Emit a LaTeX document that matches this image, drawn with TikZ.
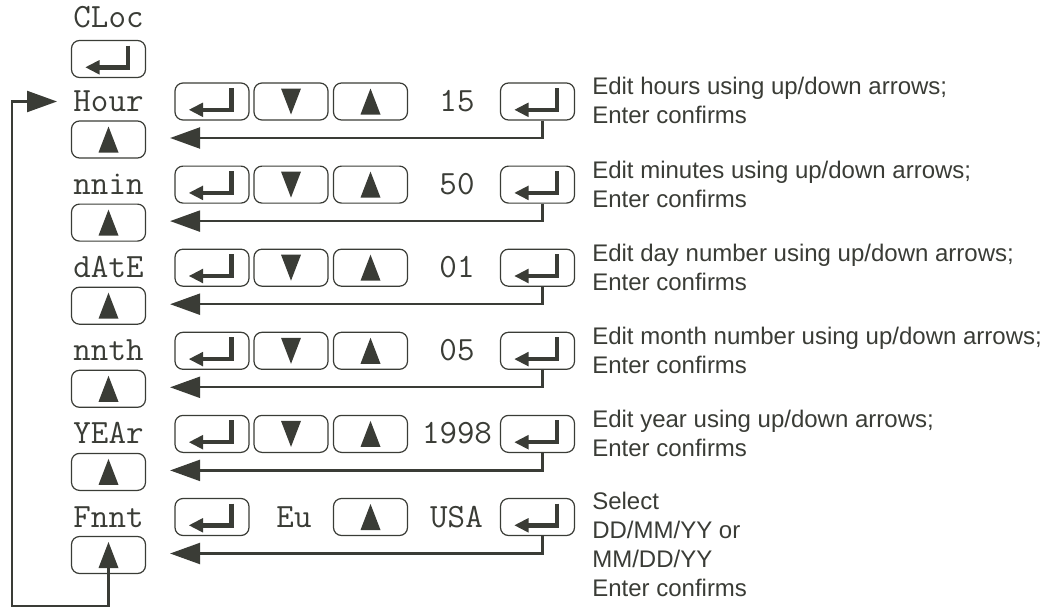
\documentclass[tikz,border=0pt]{standalone}
\usepackage{fontspec}
\setmainfont{Liberation Sans}
\usetikzlibrary{arrows.meta,positioning}
\definecolor{ink}{RGB}{58,60,54}

\begin{document}
\begin{tikzpicture}[x=1pt,y=1pt,every node/.style={text=ink,inner sep=0pt}, node distance=79.5pt,
		key/.style={draw=ink,line width=1.2pt,rounded corners=8pt,minimum width=74pt,minimum height=37pt},
		upkey/.style={key,path picture={\fill[ink,sharp corners] ([shift={(-10,-13)}]path picture bounding box.center) -- ++(20,0) -- ++(-10,26) -- cycle;}},
		dnkey/.style={key,path picture={\fill[ink,sharp corners] ([shift={(-10,13)}]path picture bounding box.center) -- ++(20,0) -- ++(-10,-26) -- cycle;}},
		entkey/.style={key,path picture={
			\draw[ink,sharp corners,line width=4.5pt] ([shift={(19.7,13.5)}]path picture bounding box.center) |- ++(-29,-21.8);
			\fill[ink,sharp corners] ([shift={(-9,-1)}]path picture bounding box.center) -- ++(-14,-7.3) -- ++(14,-7.3) -- cycle;}},
		lab/.style={font=\ttfamily\fontsize{34}{34}\selectfont,text height=20pt,text depth=0pt},
		note/.style={font=\fontsize{24}{29}\selectfont,align=left,anchor=north west},
		ret/.style={draw=ink,line width=2.3pt,-{Triangle[length=30pt,width=21pt]}}]
			\useasboundingbox (0,0) rectangle (1050,-608);

			\node[lab] (l0) at (108.5,-17) {CLoc};
			\node[entkey,below of=l0,node distance=42pt] (k0) {};

			% Hour
			\node[lab,below of=k0,node distance=42.5pt] (l1) {Hour};
			\node[upkey,below of=l1,node distance=38pt] (u1) {};
			\node[entkey,right of=l1,node distance=103.5pt] (e1) {};
			\node[dnkey,right of=e1,node distance=79pt] (d1) {};
			\node[upkey,right of=d1] (p1) {};
			\node[lab,right of=p1,node distance=86.5pt] (v1) {15};
			\node[entkey,right of=v1,node distance=80.5pt] (r1) {};
			\node[right=17pt of r1.north east,note,yshift=5pt] (t1) {Edit hours using up/down arrows;\\Enter confirms};

			% nnin
			\node[lab,below of=l1,node distance=83.1pt] (l2) {nnin};
			\node[upkey,below of=l2,node distance=38pt] (u2) {};
			\node[entkey,right of=l2,node distance=103.5pt] (e2) {};
			\node[dnkey,right of=e2,node distance=79pt] (d2) {};
			\node[upkey,right of=d2] (p2) {};
			\node[lab,right of=p2,node distance=86.5pt] (v2) {50};
			\node[entkey,right of=v2,node distance=80.5pt] (r2) {};
			\node[right=17pt of r2.north east,note,yshift=5pt] (t2) {Edit minutes using up/down arrows;\\Enter confirms};

			% dAtE
			\node[lab,below of=l2,node distance=83.1pt] (l3) {dAtE};
			\node[upkey,below of=l3,node distance=38pt] (u3) {};
			\node[entkey,right of=l3,node distance=103.5pt] (e3) {};
			\node[dnkey,right of=e3,node distance=79pt] (d3) {};
			\node[upkey,right of=d3] (p3) {};
			\node[lab,right of=p3,node distance=86.5pt] (v3) {01};
			\node[entkey,right of=v3,node distance=80.5pt] (r3) {};
			\node[right=17pt of r3.north east,note,yshift=5pt] (t3) {Edit day number using up/down arrows;\\Enter confirms};

			% nnth
			\node[lab,below of=l3,node distance=83.1pt] (l4) {nnth};
			\node[upkey,below of=l4,node distance=38pt] (u4) {};
			\node[entkey,right of=l4,node distance=103.5pt] (e4) {};
			\node[dnkey,right of=e4,node distance=79pt] (d4) {};
			\node[upkey,right of=d4] (p4) {};
			\node[lab,right of=p4,node distance=86.5pt] (v4) {05};
			\node[entkey,right of=v4,node distance=80.5pt] (r4) {};
			\node[right=17pt of r4.north east,note,yshift=5pt] (t4) {Edit month number using up/down arrows;\\Enter confirms};

			% YEAr
			\node[lab,below of=l4,node distance=83.1pt] (l5) {YEAr};
			\node[upkey,below of=l5,node distance=38pt] (u5) {};
			\node[entkey,right of=l5,node distance=103.5pt] (e5) {};
			\node[dnkey,right of=e5,node distance=79pt] (d5) {};
			\node[upkey,right of=d5] (p5) {};
			\node[lab,right of=p5,node distance=86.5pt] (v5) {1998};
			\node[entkey,right of=v5,node distance=80.5pt] (r5) {};
			\node[right=17pt of r5.north east,note,yshift=5pt] (t5) {Edit year using up/down arrows;\\Enter confirms};

			% Fnnt
			\node[lab,below of=l5,node distance=83.1pt] (l6) {Fnnt};
			\node[upkey,below of=l6,node distance=38pt] (u6) {};
			\node[entkey,right of=l6,node distance=103.5pt] (e6) {};
			\node[lab,right of=e6,node distance=82pt] (eu) {Eu};
			\node[upkey,right of=eu,node distance=76.5pt] (p6) {};
			\node[lab,right of=p6,node distance=86pt] (usa) {USA};
			\node[entkey,right of=usa,node distance=81pt] (r6) {};
			\node[right=17pt of r6.north east,note,yshift=6pt] (t6) {Select\\DD/MM/YY or\\MM/DD/YY\\Enter confirms};

			% back to the up key
			\draw[ret] ([xshift=5pt]r1.south) |- ([xshift=24pt,yshift=1.5pt]u1.east);
			\draw[ret] ([xshift=5pt]r2.south) |- ([xshift=24pt,yshift=1.5pt]u2.east);
			\draw[ret] ([xshift=5pt]r3.south) |- ([xshift=24pt,yshift=1.5pt]u3.east);
			\draw[ret] ([xshift=5pt]r4.south) |- ([xshift=24pt,yshift=1.5pt]u4.east);
			\draw[ret] ([xshift=5pt]r5.south) |- ([xshift=24pt,yshift=1.5pt]u5.east);
			\draw[ret] ([xshift=5pt]r6.south) |- ([xshift=24pt,yshift=1.5pt]u6.east);

			\coordinate (lp) at (12,-606);
			\draw[ret] (u6.center) |- (lp) |- ([xshift=-51.5pt]l1.center);
		\end{tikzpicture}
\end{document}
